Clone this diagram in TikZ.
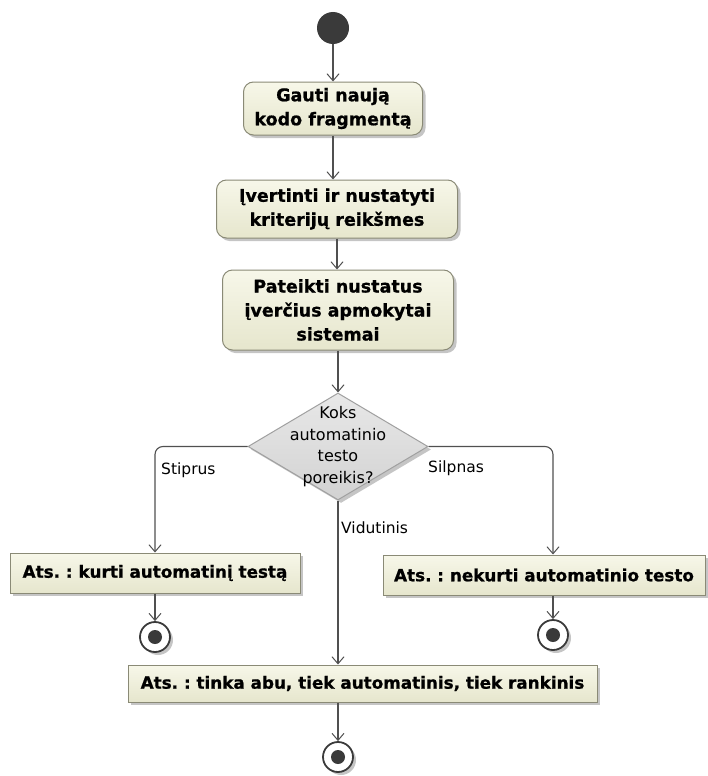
\documentclass[tikz,border=0pt]{standalone}
\usepackage{fontspec}
\setmainfont[BoldFeatures={FakeBold=0.8}]{DejaVu Sans}
\usetikzlibrary{arrows.meta,shapes.geometric,shadows}
\frenchspacing

\definecolor{actfilltop}{HTML}{F7F7E9}
\definecolor{actfillbot}{HTML}{E6E6CD}
\definecolor{actline}{HTML}{8A8A76}
\definecolor{flow}{HTML}{505050}
\definecolor{decfilltop}{HTML}{E8E8E8}
\definecolor{decfillbot}{HTML}{D2D2D2}
\definecolor{decline}{HTML}{A0A0A0}
\definecolor{dotcol}{HTML}{3A3A3A}

\begin{document}
\begin{tikzpicture}[x=1pt,y=-1pt,
  boxshadow/.style={drop shadow={shadow xshift=3pt,shadow yshift=-3pt,fill=black!50,opacity=.45}},
  action/.style={rectangle,rounded corners=10pt,draw=actline,line width=1pt,
    top color=actfilltop,bottom color=actfillbot,boxshadow,
    font=\fontsize{17.5}{24}\selectfont\bfseries,align=center,inner sep=0pt},
  result/.style={rectangle,draw=actline,line width=1pt,
    top color=actfilltop,bottom color=actfillbot,boxshadow,
    font=\fontsize{16.8}{22}\selectfont\bfseries,align=center,inner sep=0pt},
  decision/.style={diamond,draw=decline,line width=1pt,
    top color=decfilltop,bottom color=decfillbot,boxshadow,
    minimum width=180pt,minimum height=107pt,inner sep=0pt},
  startdot/.style={circle,fill=dotcol,minimum size=32pt,inner sep=0pt},
  enddot/.style={circle,draw=dotcol,line width=1.8pt,fill=white,minimum size=30pt,inner sep=0pt,
    boxshadow,
    path picture={\fill[dotcol] (path picture bounding box.center) circle (7pt);}},
  flowline/.style={draw=flow,line width=1.1pt,
    -{Straight Barb[length=7pt,width=12pt,line width=1pt]}},
  guard/.style={font=\fontsize{15.5}{19}\selectfont,inner sep=0pt,anchor=west},
  question/.style={font=\fontsize{16}{21.7}\selectfont,align=center,inner sep=0pt}
]
\fill[white] (0,0) rectangle (707,776);
\useasboundingbox (0,0) rectangle (707,776);

% activity flow
\node[startdot] (s) at (333,28) {};
\node[action,minimum width=179pt,minimum height=53pt] (b1) at (333,108.5)
  {Gauti naują\\kodo fragmentą};
\node[action,minimum width=241pt,minimum height=58pt] (b2) at (337,209)
  {Įvertinti ir nustatyti\\kriterijų reikšmes};
\node[action,minimum width=231pt,minimum height=80pt] (b3) at (338,310)
  {Pateikti nustatus\\įverčius apmokytai\\sistemai};

\node[decision] (d) at (338,446.5) {};
\node[question] (q) at (d.center) {Koks\\automatinio\\testo\\poreikis?};

\node[result,minimum width=290pt,minimum height=40pt] (L) at (155,573)
  {Ats. : kurti automatinį testą};
\node[result,minimum width=322pt,minimum height=40pt] (R) at (544,575)
  {Ats. : nekurti automatinio testo};
\node[result,minimum width=469pt,minimum height=37pt] (M) at (362.5,683.5)
  {Ats. : tinka abu, tiek automatinis, tiek rankinis};

\node[enddot] (f1) at (155,637) {};
\node[enddot] (f2) at (553,635) {};
\node[enddot] (f3) at (338,757) {};

% connectors
\draw[flowline] (s) -- (b1);
\draw[flowline] (b1) -- (b1 |- b2.north);
\draw[flowline] (b2) -- (b2 |- b3.north);
\draw[flowline] (b3) -- (d);
\draw[flowline,rounded corners=8pt] (d.west) -| (L.north);
\draw[flowline,rounded corners=8pt] (d.east) -| ([xshift=9pt]R.north);
\draw[flowline] (d.south) -- (d.south |- M.north);
\draw[flowline] (L) -- (f1);
\draw[flowline] ([xshift=9pt]R.south) -- (f2);
\draw[flowline] (d.south |- M.south) -- (f3);

% guards
\node[guard] (g1) at (161,470) {Stiprus};
\node[guard] (g2) at (428,468) {Silpnas};
\node[guard] (g3) at (341,528) {Vidutinis};
\end{tikzpicture}
\end{document}
